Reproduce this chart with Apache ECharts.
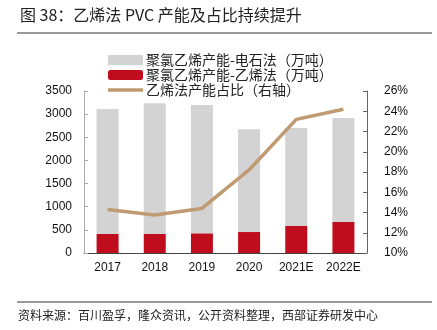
<!DOCTYPE html>
<html><head><meta charset="utf-8">
<script src="https://cdn.jsdelivr.net/npm/echarts@6/dist/echarts.min.js"></script>
<style>html,body{margin:0;padding:0;background:#fff}#c{width:437px;height:330px}</style>
</head><body><div id="c"></div>
<script>
const categories = ['2017','2018','2019','2020','2021E','2022E'];
const ethyleneCap = [410, 410, 425, 453, 590, 670];
const carbideCap = [2700, 2823, 2772, 2219, 2110, 2246];
const ethyleneShare = [14.3, 13.75, 14.4, 18.2, 23.2, 24.2];
const leftTicks = [0, 3500, 500];
const rightTicks = [10, 26, 2];

const cjk = '"Noto Sans CJK SC", sans-serif';
const lat = '"Liberation Sans", Arial, sans-serif';
const chart = echarts.init(document.getElementById('c'), null, {renderer:'canvas'});
chart.setOption({
  animation:false,
  backgroundColor:'#fff',
  title:[
    {text:'图 38：乙烯法 PVC 产能及占比持续提升', left:15, top:2,
      textStyle:{fontFamily:cjk, fontSize:16, fontWeight:'normal', color:'#222'}},
    {text:'资料来源：百川盈孚，隆众资讯，公开资料整理，西部证券研发中心', left:13, top:304,
      textStyle:{fontFamily:cjk, fontSize:12, fontWeight:'normal', color:'#222'}}
  ],
  graphic:[
    {type:'line', shape:{x1:17,y1:33,x2:432,y2:33}, style:{stroke:'#777', lineWidth:1.5}},
    {type:'line', shape:{x1:17,y1:302,x2:432,y2:302}, style:{stroke:'#777', lineWidth:1.5}}
  ],
  legend:{
    orient:'vertical', left:108, top:53, padding:0, itemWidth:35, itemHeight:10, itemGap:1,
    textStyle:{fontFamily:cjk, fontSize:14, lineHeight:14, color:'#222', padding:[0,0,0,-2]},
    data:[
      {name:'聚氯乙烯产能-电石法（万吨）', icon:'rect'},
      {name:'聚氯乙烯产能-乙烯法（万吨）', icon:'roundRect'},
      {name:'乙烯法产能占比（右轴）', icon:'path://M0,0 L36,0 L36,3.5 L0,3.5 Z', itemStyle:{color:'#bf9a72'}}
    ]
  },
  grid:{left:84, right:70, top:91, bottom:77},
  xAxis:{type:'category', data:categories,
    axisLine:{lineStyle:{color:'#444'}},
    axisTick:{inside:true, length:4, lineStyle:{color:'#444'}},
    axisLabel:{fontFamily:lat, fontSize:12, color:'#111', margin:9}},
  yAxis:[
    {type:'value', min:leftTicks[0], max:leftTicks[1], interval:leftTicks[2],
      axisLine:{show:true, lineStyle:{color:'#aaa'}},
      axisTick:{show:true, inside:true, length:4, lineStyle:{color:'#aaa'}},
      splitLine:{show:false},
      axisLabel:{fontFamily:lat, fontSize:12, color:'#111', margin:12, formatter:v=>String(v)}},
    {type:'value', min:rightTicks[0], max:rightTicks[1], interval:rightTicks[2], position:'right',
      axisLine:{show:true, lineStyle:{color:'#666'}},
      axisTick:{show:true, inside:true, length:4, lineStyle:{color:'#666'}},
      splitLine:{show:false},
      axisLabel:{fontFamily:lat, fontSize:12, color:'#111', margin:17, formatter:'{value}%'}}
  ],
  series:[
    {name:'聚氯乙烯产能-乙烯法（万吨）', type:'bar', stack:'a', barWidth:22, data:ethyleneCap, itemStyle:{color:'#c00d1e'}},
    {name:'聚氯乙烯产能-电石法（万吨）', type:'bar', stack:'a', barWidth:22, data:carbideCap, itemStyle:{color:'#d3d3d3'}},
    {name:'乙烯法产能占比（右轴）', type:'line', yAxisIndex:1, data:ethyleneShare, symbol:'none',
      lineStyle:{color:'#bf9a72', width:3.5}, itemStyle:{color:'#bf9a72'}}
  ]
});
</script></body></html>
